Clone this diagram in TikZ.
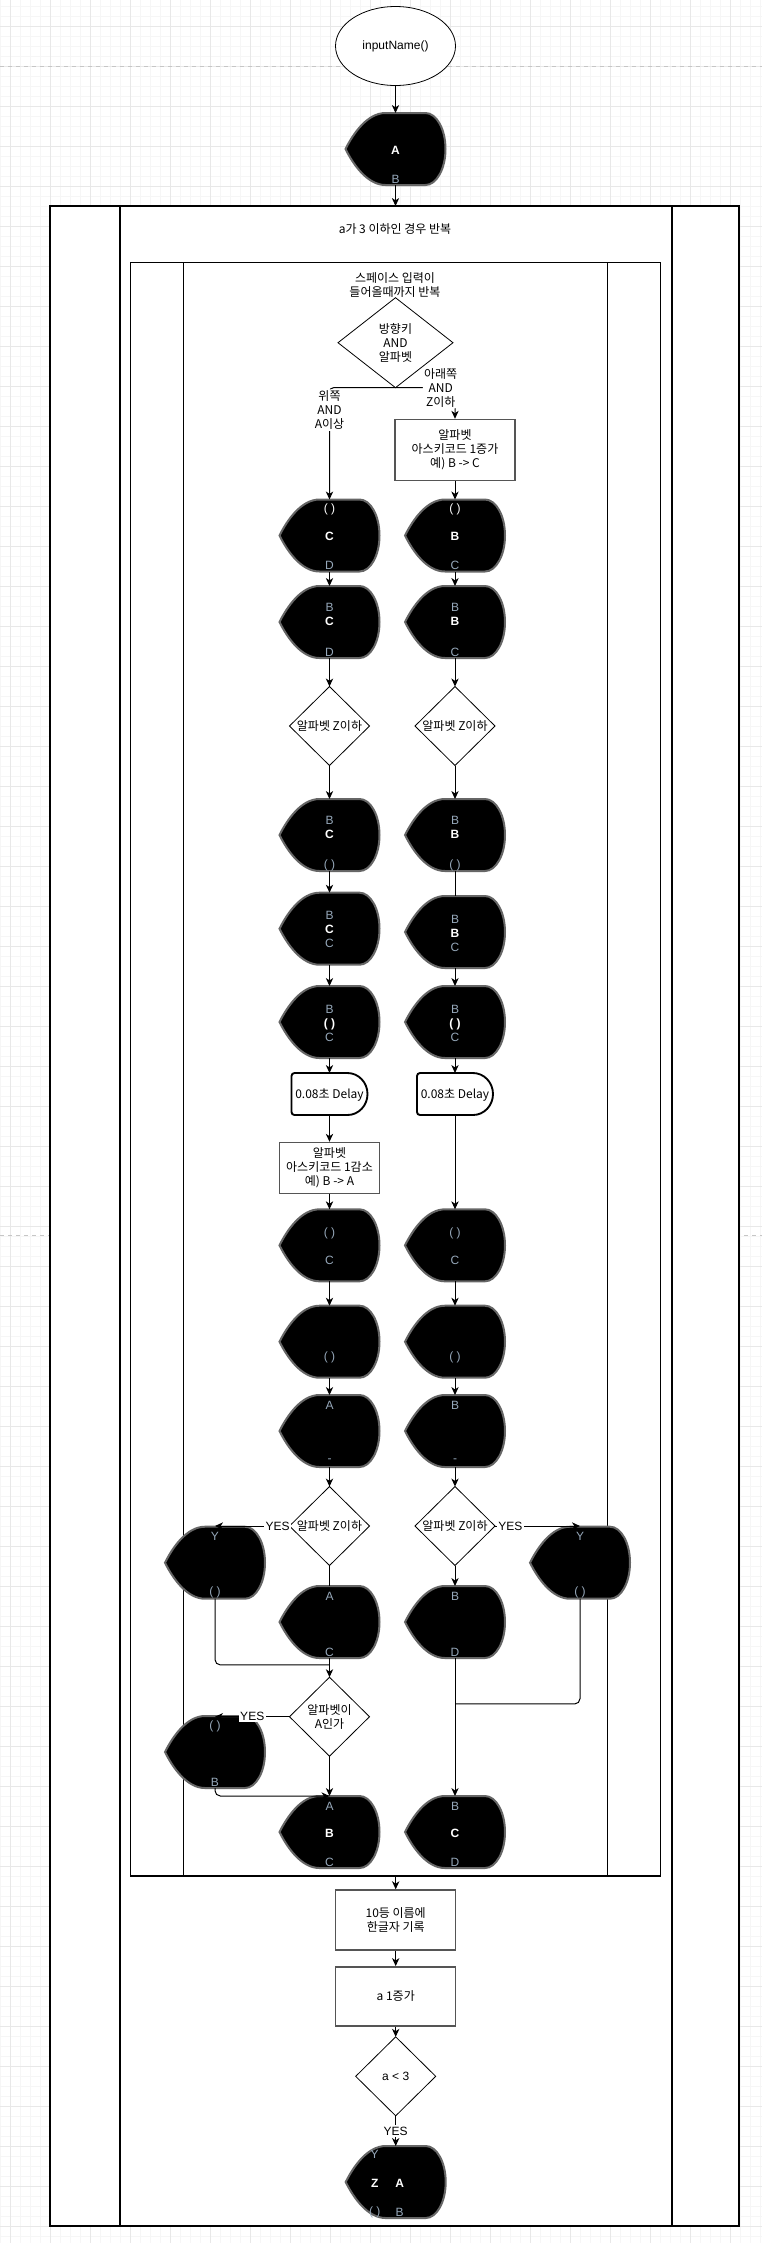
\documentclass[tikz,border=0pt]{standalone}
\usepackage{fontspec}
\setmainfont{Liberation Sans}
\newfontfamily\kr{Noto Sans CJK KR}
\usetikzlibrary{calc, arrows.meta, positioning, shapes.geometric}
\definecolor{dimtxt}{RGB}{150,168,186}
\definecolor{edgegray}{RGB}{102,102,102}
\definecolor{boxgray}{RGB}{85,85,85}
\definecolor{gridmin}{RGB}{246,246,246}
\definecolor{gridmaj}{RGB}{232,232,232}
\newcommand{\lowtxt}[1]{{\mdseries\color{dimtxt}#1}}
\tikzset{
  >={Stealth[length=6pt,width=5.5pt,inset=1.8pt]},
  flow/.style = {line width=0.75pt},
  lat/.style = {font=\fontsize{9}{10.5}\selectfont, align=center},
  txt/.style = {font=\kr\fontsize{9}{10.5}\selectfont, align=center},
  lbl/.style = {lat, fill=white, inner sep=1pt},
  term/.style = {ellipse, draw, line width=0.6pt, fill=white,
                 minimum width=90pt, minimum height=59.25pt, lat},
  proc/.style = {rectangle, draw=boxgray, line width=1.1pt, fill=white,
                 inner sep=0pt, txt},
  dec/.style = {diamond, draw, line width=0.6pt, fill=white, inner sep=0pt,
                outer sep=0pt, minimum width=60pt, minimum height=59.25pt},
  loopbox/.style = {rectangle, draw, line width=1pt, fill=white,
                    inner sep=0pt, outer sep=0pt},
  loopline/.style = {line width=1pt},
  gridline/.style = {line width=0.75pt},
  pagebreak/.style = {draw=gray!45, dashed, line width=0.75pt},
  dispbox/.style = {rectangle, inner sep=0pt, outer sep=0pt,
                    minimum width=75pt, minimum height=54pt},
  displine/.style = {draw=edgegray, fill=black, line width=1.5pt},
  dtxt/.style = {inner sep=0pt, align=center, text=dimtxt,
                 font=\fontsize{9}{10.5}\selectfont},
  dmid/.style = {dtxt, text=white, font=\fontsize{9}{10.5}\selectfont\bfseries},
  delaybox/.style = {rectangle, inner sep=0pt, outer sep=0pt,
                     minimum width=57pt, minimum height=31.5pt},
  delayline/.style = {draw, fill=white, line width=1.4pt},
}
% display shape: name, position, top, middle, bottom
\newcommand{\dispnode}[5]{%
  \node[dispbox] (#1) at #2 {};
  \draw[displine, shift={#2}] (-50,0) .. controls (-42,-16) and (-28,-36) .. (-10,-36)
    -- (30,-36) .. controls (41,-36) and (50,-19.9) .. (50,0)
    .. controls (50,19.9) and (41,36) .. (30,36)
    -- (-10,36) .. controls (-28,36) and (-42,16) .. (-50,0) -- cycle;
  \node[dtxt] (#1-t) at ($(#1.center)+(0,-26)$) {#3};
  \node[dmid] (#1-m) at ($(#1.center)+(0,1)$) {#4};
  \node[dtxt] (#1-b) at ($(#1.center)+(0,30)$) {#5};
}
% delay shape: name, position, text
\newcommand{\delaynode}[3]{%
  \node[delaybox] (#1) at #2 {};
  \draw[delayline, shift={#2}] (18,-21) .. controls (29,-21) and (38,-11.6) .. (38,0)
    .. controls (38,11.6) and (29,21) .. (18,21) -- (-35,21)
    .. controls (-36.7,21) and (-38,19.7) .. (-38,18) -- (-38,-18)
    .. controls (-38,-19.7) and (-36.7,-21) .. (-35,-21) -- cycle;
  \node[txt] (#1-t) at ($(#1.center)+(0,1)$) {#3};
}
\begin{document}
\begin{tikzpicture}[x=0.75pt, y=-0.75pt]
  \useasboundingbox (0,0) rectangle (762,2243);

  % 배경 격자
  \foreach \gx in {0,10,...,760} \draw[gridline, draw=gridmin] (\gx,0) -- (\gx,2243);
  \foreach \gy in {6.7,16.7,...,2240} \draw[gridline, draw=gridmin] (0,\gy) -- (762,\gy);
  \foreach \gx in {10,50,...,730} \draw[gridline, draw=gridmaj] (\gx,0) -- (\gx,2243);
  \foreach \gy in {26.7,66.7,...,2230} \draw[gridline, draw=gridmaj] (0,\gy) -- (762,\gy);
  \draw[pagebreak] (0,66) -- (762,66);
  \draw[pagebreak] (0,1235) -- (762,1235);

  % 반복 상자
  \node[loopbox, minimum width=516.75pt, minimum height=1515pt] (outer) at (394.5,1216) {};
  \draw[loopline] ($(outer.north west)+(70,0)$) -- ($(outer.south west)+(70,0)$);
  \draw[loopline] ($(outer.north east)+(-67,0)$) -- ($(outer.south east)+(-67,0)$);
  \node[txt] (outerlbl) at (395,229) {a가 3 이하인 경우 반복};
  \node[loopbox, minimum width=397.4pt, minimum height=1210.3pt] (inner) at (395.55,1069.15) {};
  \draw[loopline] ($(inner.north west)+(53.15,0)$) -- ($(inner.south west)+(53.15,0)$);
  \draw[loopline] ($(inner.north east)+(-53.1,0)$) -- ($(inner.south east)+(-53.1,0)$);
  \node[txt] (innerlbl) at (395,285) {스페이스 입력이\\들어올때까지 반복};

  % 시작
  \node[term] (start) at (395.5,46) {inputName()};
  \dispnode{dispA}{(395.5,149)}{}{A}{B}

  \node[dec, minimum width=86.25pt, minimum height=67.5pt] (d1) at (395.5,342.7) {};
  \node[txt] (d1-t) at (d1) {방향키\\AND\\알파벳};

  % 왼쪽 열
  \dispnode{l1}{(329.5,535.5)}{\textcolor{white}{( )}}{C}{D}
  \dispnode{l2}{(329.5,622)}{}{\lowtxt{B}\\C\\\strut}{D}
  \node[dec] (lz) at (329.5,726) {};
  \node[txt] (lz-t) at (lz) {알파벳 Z이하};
  \dispnode{l3}{(329.5,835)}{}{\lowtxt{B}\\C\\\strut}{( )}
  \dispnode{l4}{(329.5,928.7)}{}{\lowtxt{B}\\C\\\lowtxt{C}}{}
  \dispnode{l5}{(329.5,1022)}{}{\lowtxt{B}\\( )\\\lowtxt{C}}{}
  \delaynode{ldel}{(329.5,1094)}{0.08초 Delay}
  \node[proc, minimum width=75pt, minimum height=38.25pt] (ldec) at (329.5,1168) {알파벳\\아스키코드 1감소\\예) B -> A};
  \dispnode{l6}{(329.5,1245.3)}{}{\lowtxt{( )}\\\strut\\\lowtxt{C}}{}
  \dispnode{l7}{(329.5,1341.7)}{}{\strut\\\strut\\\lowtxt{( )}}{}
  \dispnode{l8}{(329.5,1431)}{A}{}{-}
  \node[dec] (lz2) at (329.5,1526) {};
  \node[txt] (lz2-t) at (lz2) {알파벳 Z이하};
  \dispnode{ly}{(215,1562.7)}{Y}{}{( )}
  \dispnode{l9}{(329.5,1622)}{A}{}{C}
  \node[dec] (la) at (329.5,1716.7) {};
  \node[txt] (la-t) at (la) {알파벳이\\A인가};
  \dispnode{lb}{(215,1752)}{( )}{}{B}
  \dispnode{l10}{(329.5,1832)}{A}{B}{C}

  % 오른쪽 열
  \node[proc, minimum width=90pt, minimum height=45.75pt] (rinc) at (455,450) {알파벳\\아스키코드 1증가\\예) B -> C};
  \dispnode{r1}{(455,535.5)}{\textcolor{white}{( )}}{B}{C}
  \dispnode{r2}{(455,622)}{}{\lowtxt{B}\\B\\\strut}{C}
  \node[dec] (rz) at (455,726) {};
  \node[txt] (rz-t) at (rz) {알파벳 Z이하};
  \dispnode{r3}{(455,835)}{}{\lowtxt{B}\\B\\\strut}{( )}
  \dispnode{r4}{(455,932)}{}{\lowtxt{B}\\B\\\lowtxt{C}}{}
  \dispnode{r5}{(455,1022)}{}{\lowtxt{B}\\( )\\\lowtxt{C}}{}
  \delaynode{rdel}{(455,1094)}{0.08초 Delay}
  \dispnode{r6}{(455,1245.3)}{}{\lowtxt{( )}\\\strut\\\lowtxt{C}}{}
  \dispnode{r7}{(455,1341.7)}{}{\strut\\\strut\\\lowtxt{( )}}{}
  \dispnode{r8}{(455,1431)}{B}{}{-}
  \node[dec] (rz2) at (455,1526) {};
  \node[txt] (rz2-t) at (rz2) {알파벳 Z이하};
  \dispnode{ry}{(580,1562.7)}{Y}{}{( )}
  \dispnode{r9}{(455,1622)}{B}{}{D}
  \dispnode{r10}{(455,1832)}{B}{C}{D}

  % 아래쪽
  \node[proc, minimum width=90pt, minimum height=45pt] (box10) at (395.7,1920) {10등 이름에\\한글자 기록};
  \node[proc, minimum width=90pt, minimum height=44.25pt] (boxinc) at (395.7,1996.3) {a 1증가};
  \node[dec] (dlt) at (395.7,2076.3) {};
  \node[lat] (dlt-t) at (dlt) {a < 3};
  \dispnode{fin}{(395.7,2182)}{}{}{}
  \node[dtxt] (fin-y) at ($(fin.center)+(-21,-28)$) {Y};
  \node[dmid] (fin-z) at ($(fin.center)+(-21,1)$) {Z};
  \node[dmid] (fin-a) at ($(fin.center)+(4,1)$) {A};
  \node[dtxt] (fin-p) at ($(fin.center)+(-21,30)$) {( )};
  \node[dtxt] (fin-b) at ($(fin.center)+(4,30)$) {B};

  % 연결선
  \draw[flow, ->] (start) -- (dispA);
  \draw[flow, ->] (dispA.south) -- (dispA.south |- outer.north);
  \draw[flow, ->, rounded corners=3pt] (d1.south) -| node[lbl, txt, pos=0.6] (upl) {위쪽\\AND\\A이상} (l1.north);
  \draw[flow, ->, rounded corners=3pt] (d1.south) -| node[lbl, txt, pos=0.38] (dnl) {아래쪽\\AND\\Z이하} (rinc.north);
  \draw[flow, ->] (rinc) -- (r1);
  \draw[flow, ->] (l1) -- (l2);
  \draw[flow, ->] (r1) -- (r2);
  \draw[flow, ->] (l2) -- (lz);
  \draw[flow, ->] (r2) -- (rz);
  \draw[flow, ->] (lz) -- (l3);
  \draw[flow, ->] (rz) -- (r3);
  \draw[flow, ->] (l3) -- (l4);
  \draw[flow] (r3) -- (r4);
  \draw[flow, ->] (l4) -- (l5);
  \draw[flow, ->] (r4) -- (r5);
  \draw[flow, ->] (l5) -- (ldel);
  \draw[flow, ->] (r5) -- (rdel);
  \draw[flow, ->] (ldel) -- (ldec);
  \draw[flow, ->] (ldec) -- (l6);
  \draw[flow, ->] (rdel) -- (r6);
  \draw[flow, ->] (l6) -- (l7);
  \draw[flow, ->] (r6) -- (r7);
  \draw[flow, ->] (l7) -- (l8);
  \draw[flow, ->] (r7) -- (r8);
  \draw[flow, ->] (l8) -- (lz2);
  \draw[flow, ->] (r8) -- (rz2);
  \draw[flow] (lz2) -- (l9);
  \draw[flow, ->] (rz2) -- (r9);
  \draw[flow, ->] (lz2.west) -- node[lbl, pos=0.16] (lyes) {YES} (lz2.west -| ly.north);
  \draw[flow, ->] (rz2.east) -- node[lbl, pos=0.18] (ryes) {YES} (rz2.east -| ry.north);
  \coordinate (lm) at ($(l9.south)!0.36!(la.north)$);
  \draw[flow, rounded corners=4pt] (ly.south) |- (lm);
  \draw[flow, ->] (l9) -- (la);
  \coordinate (rm) at ($(r9.south)!0.333!(r10.north)$);
  \draw[flow, rounded corners=4pt] (ry.south) |- (rm);
  \draw[flow, ->] (r9) -- (r10);
  \draw[flow, ->] (la.west) -- node[lbl, pos=0.5] (ayes) {YES} (la.west -| lb.north);
  \draw[flow, ->, rounded corners=4pt] (lb.south) |- (l10.north);
  \draw[flow, ->] (la) -- (l10);
  \draw[flow, ->] (box10.north |- inner.south) -- (box10);
  \draw[flow, ->] (box10) -- (boxinc);
  \draw[flow, ->] (boxinc) -- (dlt);
  \draw[flow, ->] (dlt) -- node[lbl, pos=0.5] (fyes) {YES} (fin);
\end{tikzpicture}
\end{document}
